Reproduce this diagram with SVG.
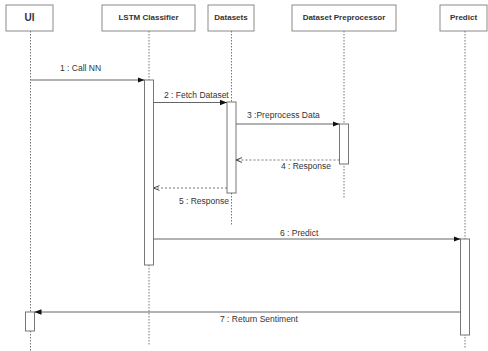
<svg xmlns="http://www.w3.org/2000/svg" width="488" height="351" viewBox="0 0 488 351">
<defs>
<style>
.hdr{fill:#fff;stroke:#8a8a8a;stroke-width:1}
.ht{font-family:"Liberation Sans",Arial,sans-serif;font-size:8px;font-weight:bold;fill:#333;text-anchor:middle}
.life{stroke:#777;stroke-width:1;stroke-dasharray:1.5,1.5;fill:none}
.act{fill:#fff;stroke:#777;stroke-width:1}
.msg{stroke:#666;stroke-width:1;fill:none}
.ret{stroke:#777;stroke-width:1;stroke-dasharray:2,2;fill:none}
.lbl{font-family:"Liberation Sans",Arial,sans-serif;font-size:8.5px;fill:#333}
</style>
<marker id="fa" viewBox="0 0 10 10" refX="10" refY="5" markerWidth="7" markerHeight="7" orient="auto" markerUnits="userSpaceOnUse">
<path d="M0,1 L10,5 L0,9 Z" fill="#111"/>
</marker>
<marker id="oa" viewBox="0 0 10 10" refX="10" refY="5" markerWidth="6" markerHeight="6" orient="auto" markerUnits="userSpaceOnUse">
<path d="M0,1 L10,5 L0,9" fill="none" stroke="#333" stroke-width="1.5"/>
</marker>
</defs>
<rect width="488" height="351" fill="#fff"/>

<g id="ui">
<rect class="hdr" x="6" y="5" width="47" height="26"/>
<text class="ht" x="29.5" y="21" style="font-size:10px">UI</text>
<line class="life" x1="30.5" y1="31" x2="30.5" y2="351"/>
<rect class="act" x="25.5" y="312" width="9" height="19"/>
</g>

<g id="lstm">
<rect class="hdr" x="102" y="5" width="93" height="26"/>
<text class="ht" x="148.5" y="20">LSTM Classifier</text>
<line class="life" x1="149" y1="31" x2="149" y2="345"/>
<rect class="act" x="144.5" y="80" width="9" height="185"/>
</g>

<g id="datasets">
<rect class="hdr" x="208" y="5" width="46" height="26"/>
<text class="ht" x="231" y="20">Datasets</text>
<line class="life" x1="231.5" y1="31" x2="231.5" y2="225"/>
<rect class="act" x="227" y="102" width="9" height="91"/>
</g>

<g id="preprocessor">
<rect class="hdr" x="292" y="5" width="104" height="26"/>
<text class="ht" x="344" y="20">Dataset Preprocessor</text>
<line class="life" x1="344" y1="31" x2="344" y2="198"/>
<rect class="act" x="339.5" y="124" width="9" height="40"/>
</g>

<g id="predict">
<rect class="hdr" x="440" y="5" width="47" height="26"/>
<text class="ht" x="463.5" y="20">Predict</text>
<line class="life" x1="465" y1="31" x2="465" y2="349"/>
<rect class="act" x="460.5" y="239" width="9" height="96"/>
</g>

<g id="connectors">
<line class="msg" x1="31" y1="80" x2="144.5" y2="80" marker-end="url(#fa)"/>
<text class="lbl" x="60" y="71">1 : Call NN</text>
<line class="msg" x1="153.5" y1="102.5" x2="227" y2="102.5" marker-end="url(#fa)"/>
<text class="lbl" x="164" y="98">2 : Fetch Dataset</text>
<line class="msg" x1="236" y1="124" x2="339.5" y2="124" marker-end="url(#fa)"/>
<text class="lbl" x="247" y="118">3 :Preprocess Data</text>
<line class="ret" x1="339.5" y1="160" x2="236" y2="160" marker-end="url(#oa)"/>
<text class="lbl" x="331" y="169" text-anchor="end">4 : Response</text>
<line class="ret" x1="227" y1="188" x2="153.5" y2="188" marker-end="url(#oa)"/>
<text class="lbl" x="229" y="204" text-anchor="end">5 : Response</text>
<line class="msg" x1="153.5" y1="239" x2="460.5" y2="239" marker-end="url(#fa)"/>
<text class="lbl" x="280" y="236">6 : Predict</text>
<line class="msg" x1="460.5" y1="312" x2="34.5" y2="312" marker-end="url(#fa)"/>
<text class="lbl" x="220" y="322">7 : Return Sentiment</text>
</g>
</svg>
